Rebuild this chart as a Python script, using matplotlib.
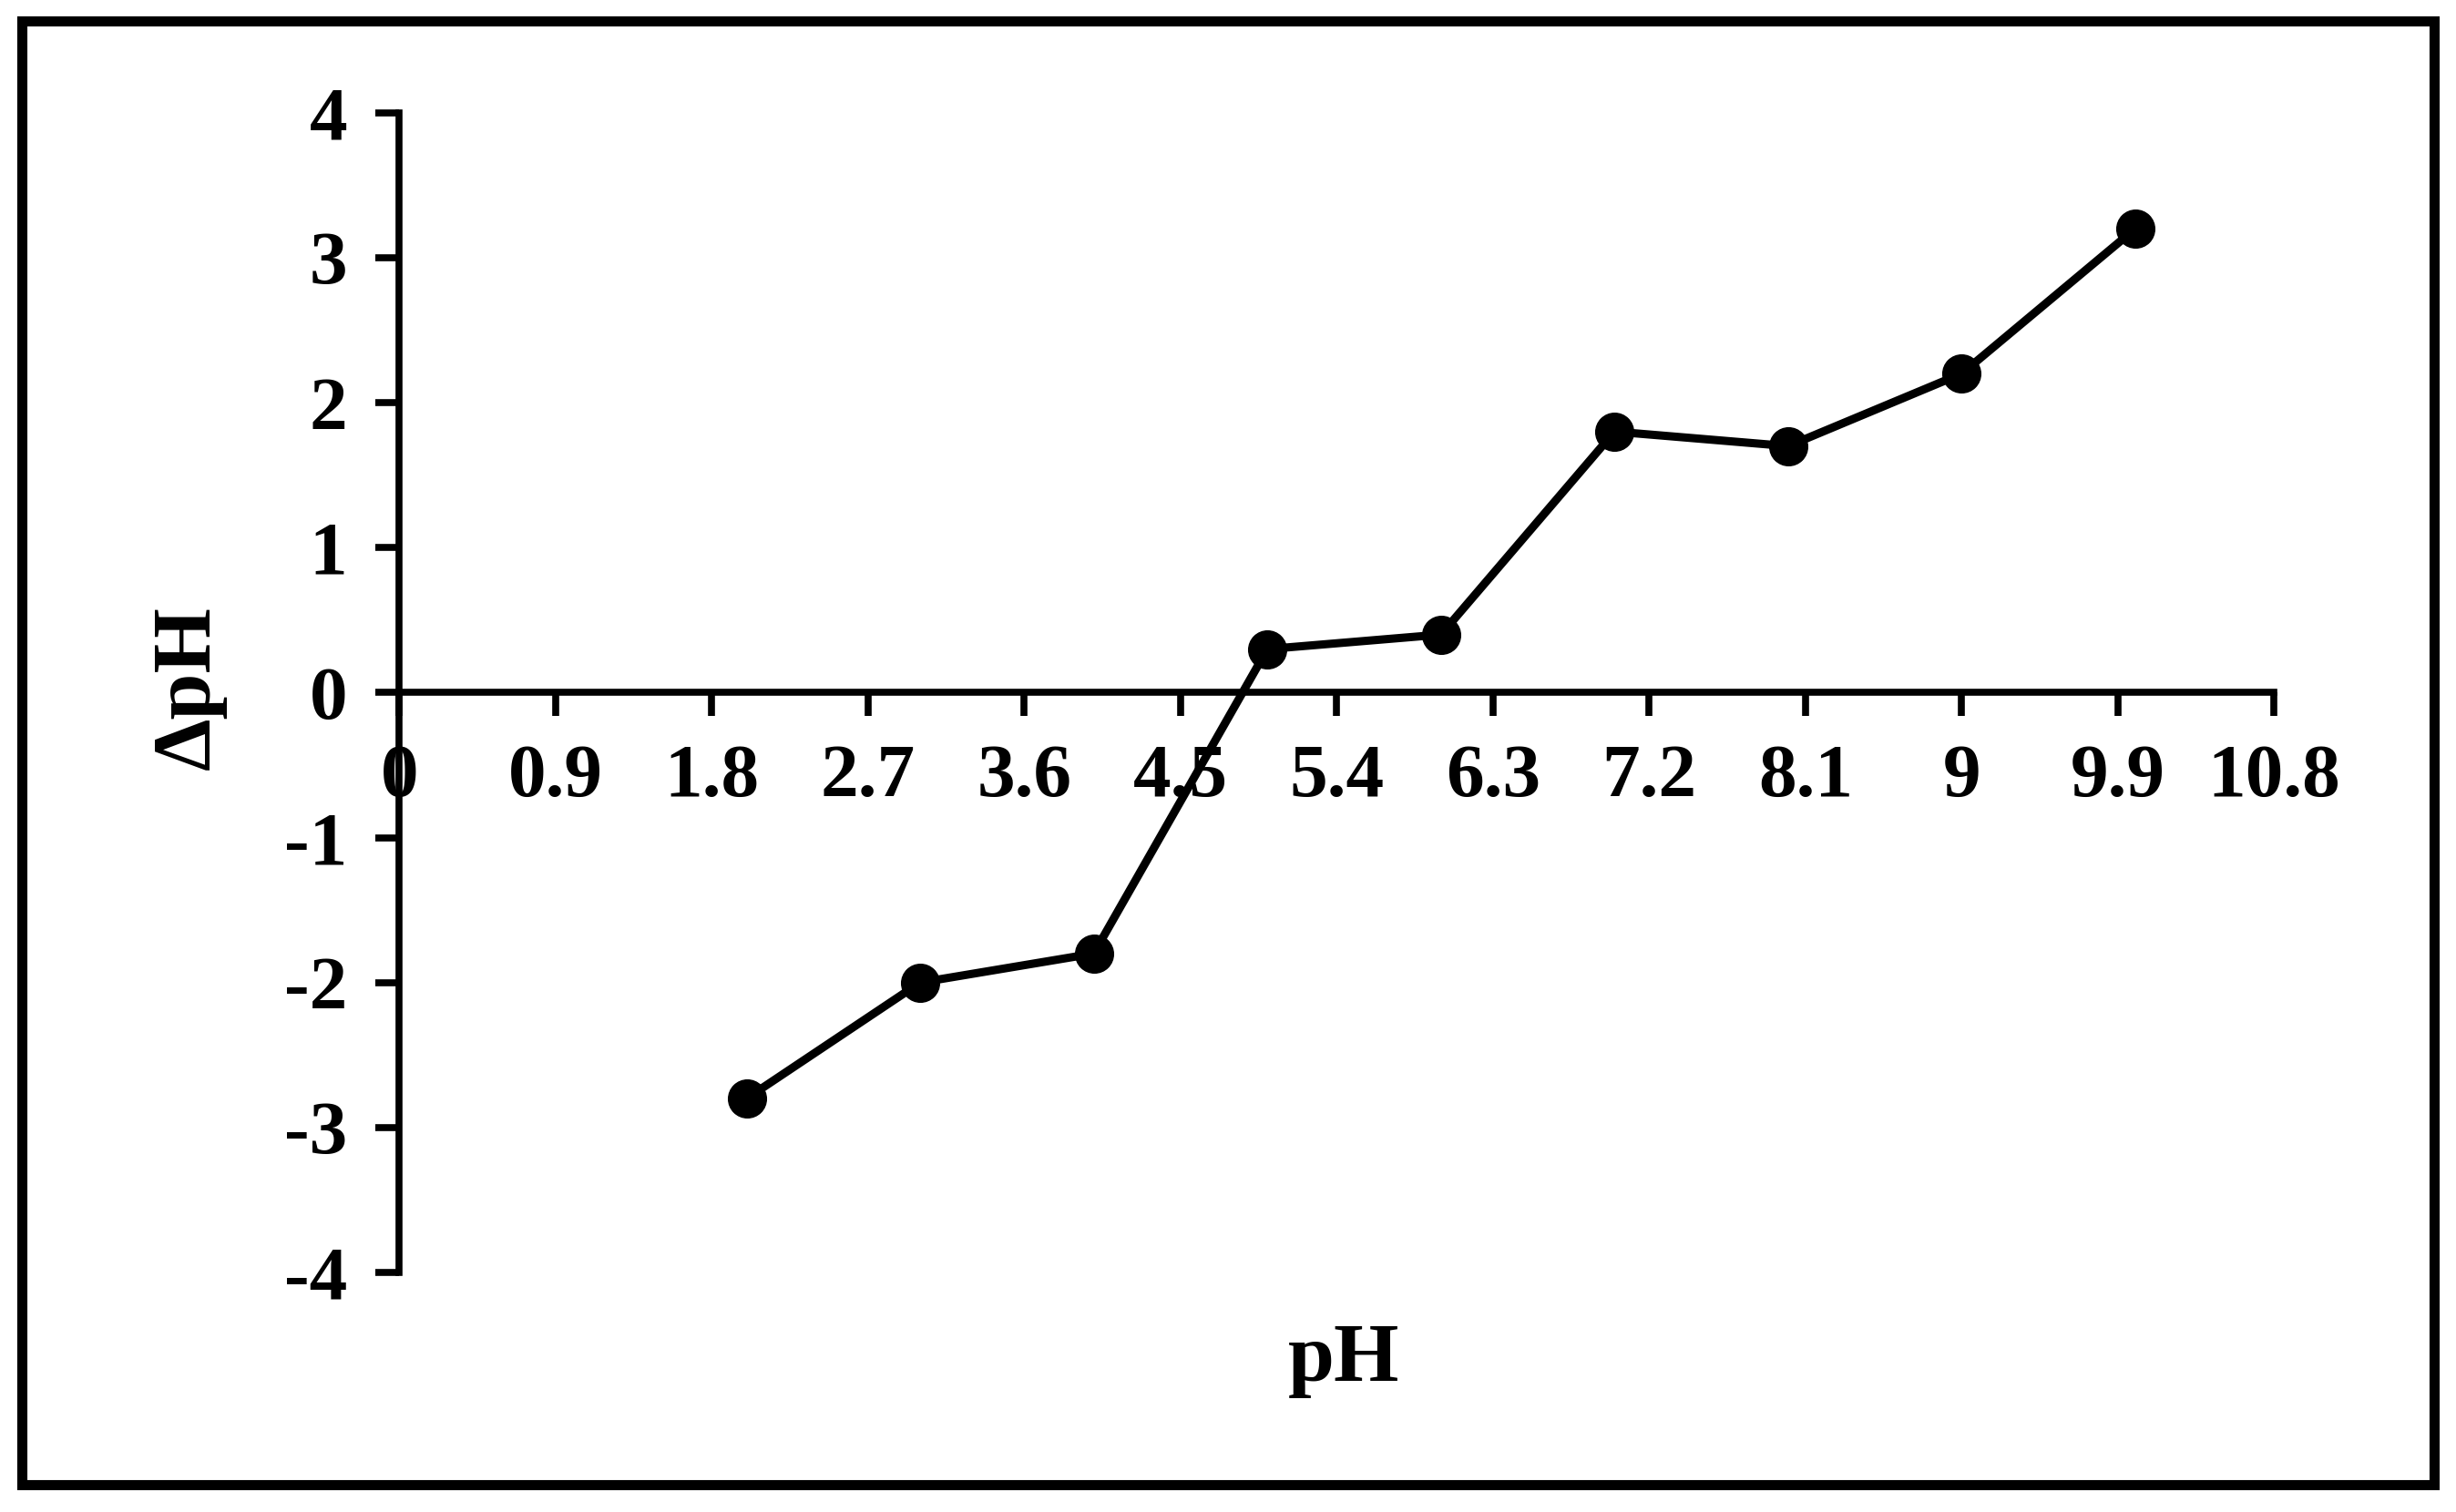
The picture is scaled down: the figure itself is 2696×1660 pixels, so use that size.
import matplotlib
matplotlib.use("Agg")
import matplotlib.pyplot as plt
from matplotlib.patches import Rectangle

ph = [2, 3, 4, 5, 6, 7, 8, 9, 10]
delta_ph = [-2.8, -2.0, -1.8, 0.3, 0.4, 1.8, 1.7, 2.2, 3.2]
x_ticks = [0, 0.9, 1.8, 2.7, 3.6, 4.5, 5.4, 6.3, 7.2, 8.1, 9, 9.9, 10.8]
x_labels = ["0", "0.9", "1.8", "2.7", "3.6", "4.5", "5.4", "6.3", "7.2", "8.1", "9", "9.9", "10.8"]
y_ticks = [-4, -3, -2, -1, 0, 1, 2, 3, 4]

plt.rcParams['font.family'] = ['Liberation Serif', 'Times New Roman', 'DejaVu Serif']
plt.rcParams['font.weight'] = 'bold'
plt.rcParams['axes.unicode_minus'] = False

fig = plt.figure(figsize=(26.96, 16.6), dpi=100)
ax = fig.add_axes([0.1626, 0.1584, 0.7634, 0.7671])

ax.plot(ph, delta_ph, color='black', linewidth=6.5, marker='o', markersize=30,
        markerfacecolor='black', markeredgecolor='black', clip_on=False)

ax.set_xlim(0, 10.8)
ax.set_ylim(-4, 4)
ax.spines['left'].set_position(('data', 0))
ax.spines['bottom'].set_position(('data', 0))
ax.spines['top'].set_visible(False)
ax.spines['right'].set_visible(False)
for s in ('left', 'bottom'):
    ax.spines[s].set_linewidth(5.5)

ax.set_xticks(x_ticks)
ax.set_xticklabels(x_labels)
ax.set_yticks(y_ticks)
ax.tick_params(axis='both', direction='out', length=19, width=5.5,
               labelsize=60, pad=22)
for lab in ax.get_xticklabels() + ax.get_yticklabels():
    lab.set_fontweight('bold')

fig.text(0.547, 0.1, "pH", ha='center', va='center', fontsize=66, fontweight='bold')
fig.text(0.077, 0.545, "\u0394pH", ha='center', va='center', fontsize=66,
         fontweight='bold', rotation=90)

fig.patches.append(Rectangle((0.009, 0.018), 0.982, 0.968, transform=fig.transFigure,
                             fill=False, edgecolor='black', linewidth=8))

fig.savefig("out.png", dpi=100)
